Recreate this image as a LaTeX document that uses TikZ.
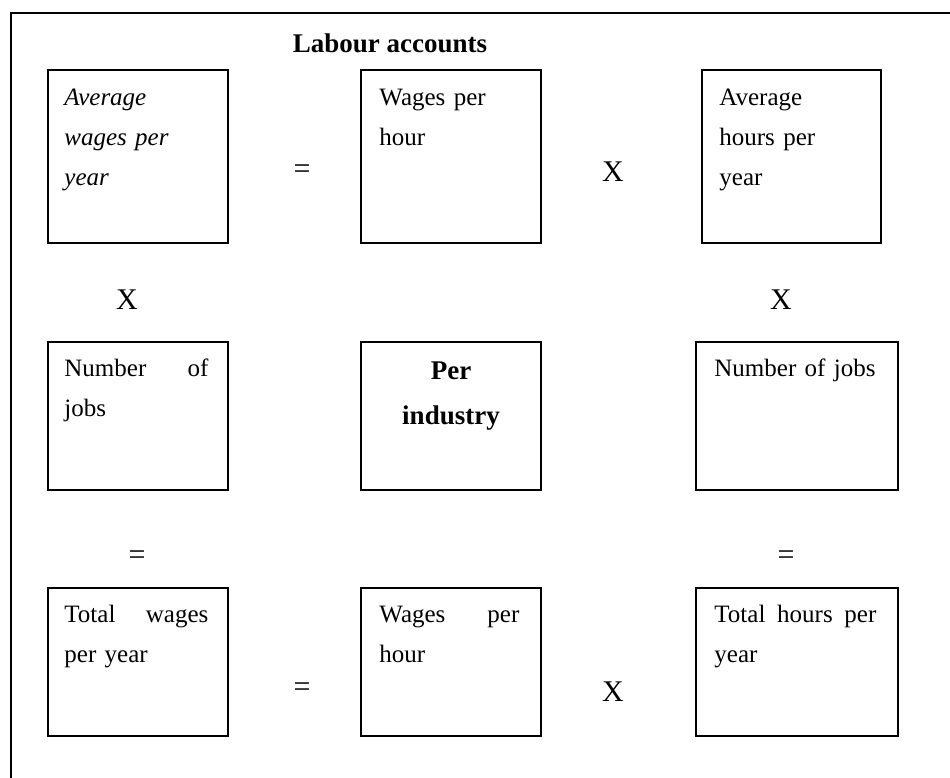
\documentclass[tikz,border=0pt]{standalone}
\usepackage{fontspec}
\setmainfont{Liberation Serif}
\usetikzlibrary{positioning}

\begin{document}
\begin{tikzpicture}[x=1pt, y=-1pt]
  \tikzstyle{cell}=[rectangle, draw, line width=1.6pt, minimum width=180pt, minimum height=148pt, inner sep=0pt]
  \tikzstyle{celltext}=[inner sep=0pt, text width=144pt, align=left, font=\fontsize{25}{40}\selectfont, execute at begin node=\strut]
  \tikzstyle{op}=[inner sep=0pt, font=\fontsize{30}{30}\selectfont]

  \useasboundingbox (0,0) rectangle (950,778);
  \draw[line width=1.6pt] (950,13) -| (11,778);

  \node[font=\bfseries\fontsize{27}{27}\selectfont, anchor=base] (title) at (390,53) {Labour accounts};

  % top row
  \node[cell, minimum height=173pt] (avgwage) at (138,156.5) {};
  \node[cell, minimum height=173pt] (wagehour) at (451,156.5) {};
  \node[cell, minimum height=173pt, minimum width=179pt] (avghours) at (791.5,156.5) {};
  \node[celltext, below right=8pt and 17pt of avgwage.north west, font=\itshape\fontsize{25}{40}\selectfont] (avgwagetext) {Average\\wages per\\year};
  \node[celltext, below right=8pt and 19pt of wagehour.north west] (wagehourtext) {Wages per\\hour};
  \node[celltext, below right=8pt and 18pt of avghours.north west] (avghourstext) {Average\\hours per\\year};

  % middle row
  \node[cell] (jobsl) at (138,416) {};
  \node[cell] (perind) at (451,416) {};
  \node[cell, minimum width=202pt] (jobsr) at (797,416) {};
  \node[celltext, below right=7pt and 17pt of jobsl.north west] (jobsltext) {Number\hfill of\\jobs};
  \node[inner sep=0pt, text width=170pt, align=center, font=\bfseries\fontsize{27}{45}\selectfont, execute at begin node=\strut, below=6.5pt of perind.north] (perindtext) {Per\\industry};
  \node[celltext, text width=164pt, below right=7pt and 19pt of jobsr.north west] (jobsrtext) {Number of jobs};

  % bottom row
  \node[cell] (totwage) at (138,662) {};
  \node[cell] (wagehourb) at (451,662) {};
  \node[cell, minimum width=202pt] (tothours) at (797,662) {};
  \node[celltext, below right=7pt and 17pt of totwage.north west] (totwagetext) {Total\hfill wages\\per year};
  \node[celltext, text width=140pt, below right=7pt and 19pt of wagehourb.north west] (wagehourbtext) {Wages\hfill per\\hour};
  \node[celltext, text width=162pt, below right=7pt and 19pt of tothours.north west] (tothourstext) {Total\hfill hours\hfill per\\year};

  % operators
  \node[op] (eqtop) at (302,172) {=};
  \node[op] (xtop) at (613,172) {X};
  \node[op] (xleft) at (127,300) {X};
  \node[op] (xright) at (781,300) {X};
  \node[op] (eqleft) at (137,558) {=};
  \node[op] (eqright) at (786,558) {=};
  \node[op] (eqbot) at (302,690) {=};
  \node[op] (xbot) at (613,692) {X};
\end{tikzpicture}
\end{document}
